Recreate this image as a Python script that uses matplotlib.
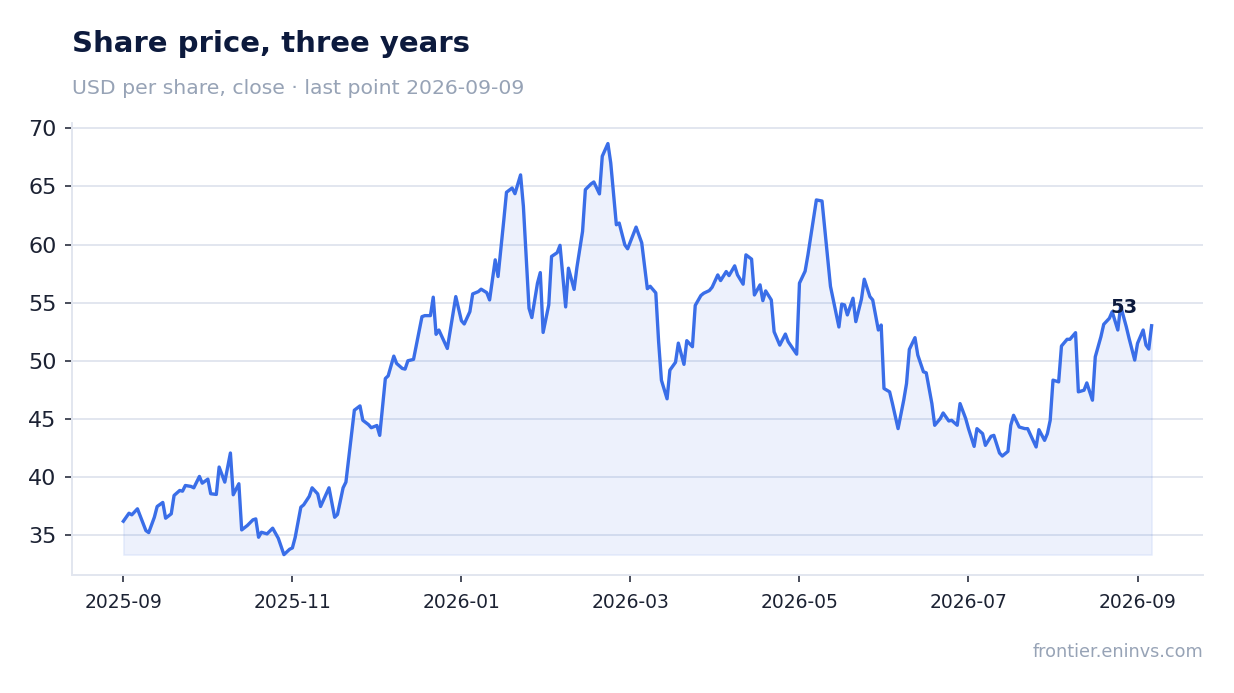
import datetime as dt
import matplotlib
matplotlib.use("Agg")
import matplotlib.pyplot as plt
import matplotlib.dates as mdates

# close prices (day offset from start date)
START = dt.date(2025, 9, 9)
day_offset = [
    0, 2, 3, 5, 8, 9, 11, 12, 14, 15, 17, 18, 20, 21, 22, 24, 25, 27, 28, 30,
    31, 33, 34, 36, 38, 39, 41, 42, 44, 46, 47, 48, 49, 51, 53, 54, 55, 57, 59, 60,
    61, 63, 64, 66, 67, 69, 70, 73, 75, 76, 78, 79, 82, 84, 85, 87, 88, 90, 91, 93,
    94, 96, 97, 99, 100, 101, 103, 106, 107, 109, 110, 111, 112, 115, 118, 120, 121, 123, 124, 126,
    127, 129, 130, 132, 133, 135, 136, 138, 139, 141, 142, 144, 145, 147, 148, 149, 151, 152, 154, 155,
    157, 158, 160, 161, 163, 164, 166, 167, 169, 170, 172, 173, 175, 176, 178, 179, 182, 184, 186, 187,
    189, 190, 191, 193, 194, 196, 197, 199, 200, 202, 203, 205, 206, 208, 209, 211, 212, 214, 215, 217,
    218, 220, 221, 223, 224, 226, 227, 228, 230, 231, 233, 235, 236, 239, 240, 242, 243, 245, 246, 248,
    249, 251, 252, 254, 255, 256, 257, 259, 260, 262, 263, 265, 266, 268, 269, 270, 272, 273, 275, 277,
    278, 279, 281, 282, 284, 285, 287, 288, 290, 291, 293, 294, 296, 297, 299, 300, 302, 303, 305, 306,
    308, 309, 311, 312, 314, 315, 316, 318, 320, 321, 324, 325, 327, 328, 329, 330, 332, 333, 335, 336,
    338, 339, 341, 342, 344, 345, 347, 348, 350, 351, 353, 354, 356, 357, 359, 360, 362, 363, 364, 365,
]
close = [
    36.15, 36.84, 36.70, 37.22, 35.34, 35.17, 36.49, 37.42, 37.77, 36.41, 36.79, 38.37, 38.80, 38.74, 39.23, 39.15, 39.03, 40.01, 39.43, 39.78,
    38.52, 38.46, 40.82, 39.52, 42.03, 38.43, 39.38, 35.40, 35.78, 36.27, 36.35, 34.77, 35.20, 35.06, 35.55, 35.11, 34.68, 33.27, 33.73, 33.85,
    34.77, 37.36, 37.56, 38.30, 39.03, 38.50, 37.42, 39.03, 36.49, 36.73, 39.03, 39.52, 45.72, 46.09, 44.85, 44.48, 44.21, 44.40, 43.55, 48.45,
    48.68, 50.38, 49.75, 49.32, 49.26, 49.98, 50.10, 53.78, 53.87, 53.87, 55.46, 52.26, 52.63, 51.04, 55.51, 53.43, 53.15, 54.21, 55.74, 55.94,
    56.15, 55.85, 55.22, 58.68, 57.24, 61.99, 64.50, 64.87, 64.38, 66.00, 63.29, 54.50, 53.70, 56.67, 57.58, 52.42, 54.79, 58.97, 59.30, 59.93,
    54.62, 57.96, 56.13, 58.03, 61.13, 64.73, 65.22, 65.39, 64.36, 67.61, 68.70, 67.04, 61.70, 61.85, 59.97, 59.63, 61.50, 60.15, 56.19, 56.40,
    55.83, 51.62, 48.30, 46.70, 49.17, 49.85, 51.50, 49.67, 51.71, 51.19, 54.75, 55.60, 55.80, 56.03, 56.32, 57.38, 56.89, 57.67, 57.32, 58.16,
    57.38, 56.58, 59.11, 58.74, 55.65, 56.52, 55.16, 56.00, 55.22, 52.48, 51.33, 52.28, 51.62, 50.55, 56.67, 57.70, 59.10, 62.30, 63.84, 63.75,
    61.27, 56.40, 55.22, 52.89, 54.86, 54.79, 53.93, 55.37, 53.35, 55.30, 57.01, 55.51, 55.22, 52.63, 53.06, 47.59, 47.30, 46.29, 44.13, 46.58,
    48.02, 50.96, 51.97, 50.47, 49.03, 48.94, 46.29, 44.42, 45.00, 45.48, 44.79, 44.85, 44.42, 46.29, 45.00, 44.13, 42.60, 44.13, 43.70, 42.69,
    43.47, 43.55, 42.03, 41.77, 42.17, 44.42, 45.28, 44.27, 44.13, 44.13, 42.55, 44.04, 43.12, 43.70, 44.85, 48.31, 48.16, 51.25, 51.83, 51.83,
    52.40, 47.30, 47.44, 48.07, 46.58, 50.32, 52.05, 53.12, 53.64, 54.21, 52.63, 54.70, 52.92, 51.91, 50.04, 51.48, 52.63, 51.33, 50.99, 53.00,
]
dates = [START + dt.timedelta(days=d) for d in day_offset]
tick_dates = [START + dt.timedelta(days=60 * k) for k in range(7)]

LINE = "#3a6ee8"
NAVY = "#0c1a3d"
GREY = "#97a3b6"
GRID = "#e2e6ef"

fig = plt.figure(figsize=(12.34, 6.93), dpi=100)
ax = fig.add_axes([0.0583, 0.170, 0.9166, 0.6525])

ax.fill_between(dates, close, min(close), color=LINE, alpha=0.09, linewidth=1.2)
ax.plot(dates, close, color=LINE, linewidth=2.4, solid_joinstyle="round")

ax.annotate(f"{close[-1]:.0f}", (dates[-1], close[-1]), xytext=(-10, 6),
            textcoords="offset points", ha="right", va="bottom",
            fontsize=14, fontweight="bold", color=NAVY)

ax.set_yticks([35, 40, 45, 50, 55, 60, 65, 70])
ax.set_xticks(tick_dates)
ax.xaxis.set_major_formatter(mdates.DateFormatter("%Y-%m"))
ax.grid(axis="y", color=GRID, linewidth=1.4)
ax.set_axisbelow(True)
for side in ["top", "right"]:
    ax.spines[side].set_visible(False)
for side in ["left", "bottom"]:
    ax.spines[side].set_color(GRID)
    ax.spines[side].set_linewidth(1.4)
ax.tick_params(axis="y", labelsize=16, colors="#2a2f3e", length=5, width=1.2, pad=6)
ax.tick_params(axis="x", labelsize=13.5, colors="#2a2f3e", length=5, width=1.2, pad=8)
ax.tick_params(axis="both", labelcolor="#1c2233")

fig.text(0.0583, 0.9365, "Share price, three years", fontsize=21, fontweight="bold",
         color=NAVY, va="center", ha="left")
fig.text(0.0583, 0.873, "USD per share, close · last point 2026-09-09", fontsize=14.7,
         color=GREY, va="center", ha="left")
fig.text(0.975, 0.059, "frontier.eninvs.com", fontsize=12.7, color=GREY,
         ha="right", va="center")

fig.savefig("out.png", dpi=100)
